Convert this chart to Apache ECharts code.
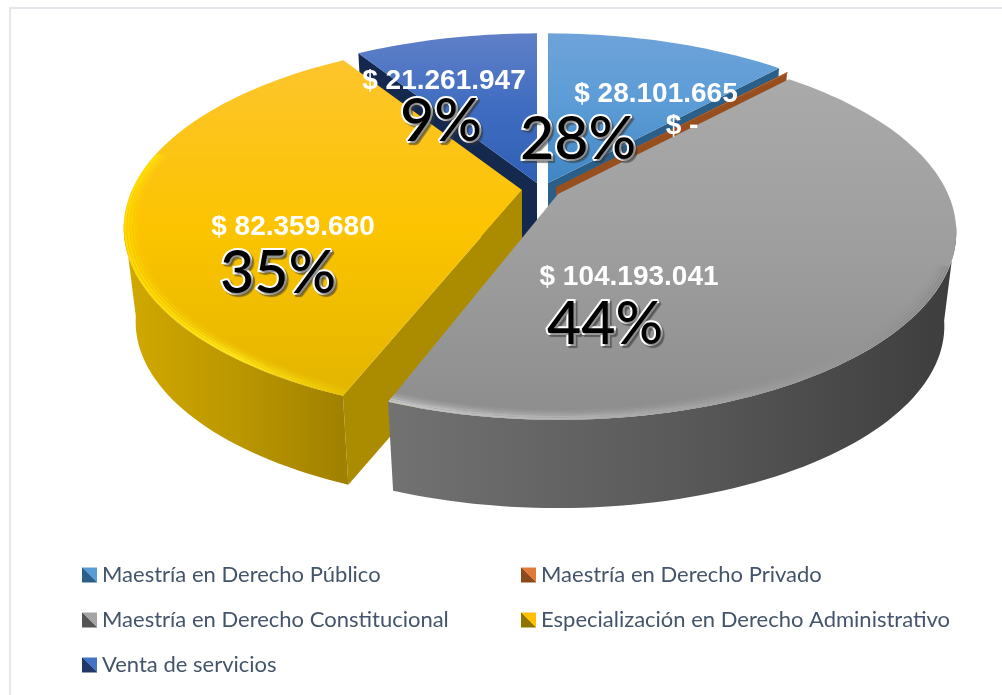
<!DOCTYPE html>
<html>
<head>
<meta charset="utf-8">
<style>html,body{margin:0;padding:0;background:#fff}#c{width:1002px;height:695px}</style>
<script src="https://cdn.jsdelivr.net/npm/echarts@6/dist/echarts.min.js"></script>
</head>
<body>
<div id="c"></div>
<script>
// ---- data ----
const categories = ['Maestría en Derecho Público','Maestría en Derecho Privado','Maestría en Derecho Constitucional','Especialización en Derecho Administrativo','Venta de servicios'];
const values = [28101665, 0, 104193041, 82359680, 21261947];
const moneyLabels = ['$ 28.101.665','$ -','$ 104.193.041','$ 82.359.680','$ 21.261.947'];
const percentLabels = ['28%','','44%','35%','9%'];

// ---- projection of the tilted disc ----
const A = 390, B = 180, K = 0.203, DEPTH = 95, FLOOR_SCALE = 0.97;
const grad = (x0,y0,x1,y1,stops) => new echarts.graphic.LinearGradient(x0,y0,x1,y1,stops.map((c,i)=>({offset:i/(stops.length-1),color:c})));
const split = (lo,hi) => new echarts.graphic.LinearGradient(0,1,1,0,[{offset:0,color:lo},{offset:.5,color:lo},{offset:.5,color:hi},{offset:1,color:hi}]);

const looks = [
  {ax:548,ay:183, top:['#6ea3d9','#5b9bd5','#3f86c4'], radial:'#2b5f88', icon:['#2b5f88','#5b9bd5']},
  {ax:556,ay:187, top:['#b5652f','#b5652f'], radial:'#984f1f', icon:['#8a4a1c','#e07a3a']},
  {ax:558,ay:194, top:['#aaaaaa','#9e9e9e','#8d8d8d'], wall:['#727272','#5a5a5a','#3d3d3d'], rim:['#c8c8c8','#a8a8a8','#8a8a8a'], rimFrom:112, endTrim:1.2, icon:['#555555','#a5a5a5']},
  {ax:522,ay:190, top:['#fdc52c','#fcc400','#e3b500'], wall:['#d2a900','#bb9700','#9f8000'], rim:['#ffdc00','#ffe81a','#e8c000'], rimTo:282, radialEnd:'#ab8c00', icon:['#8f7300','#ffc000']},
  {ax:537,ay:183, top:['#6080c8','#3f6cc0','#2f60b5'], radial:'#15294f', icon:['#1f3864','#4472c4']}
];
const total = values.reduce((s,v)=>s+v,0);
const spans = []; { let c = 0; values.forEach(v=>{ const d = v/total*360; spans.push([c,c+d]); c += d; }); }

function pt(look, deg, floor, r){
  const q = r===undefined?1:r;
  const t = deg*Math.PI/180, u = q*Math.sin(t), v = q*Math.cos(t), w = 1+K*v, s = floor?FLOOR_SCALE:1;
  return [look.ax + s*A*u/w, look.ay - s*B*v/w + (floor?DEPTH:0)];
}
function arc(look, from, to, floor, r){
  const n = Math.max(2,Math.ceil(Math.abs(to-from)/1.5)), out = [];
  for(let i=0;i<=n;i++) out.push(pt(look, from+(to-from)*i/n, floor, r));
  return out;
}
const apexTop = l => [l.ax,l.ay];
const apexFloor = l => [l.ax,l.ay+DEPTH];
const RIM_BANDS = [[0.996,1],[0.989,.85],[0.982,.55],[0.975,.3],[0.968,.12]];

function sliceRender(i){
  return function(){
    const l = looks[i];
    const from = spans[i][0], to = spans[i][1]-(l.endTrim||0);
    const kids = [];
    const poly = (points, fill) => kids.push({type:'polygon',shape:{points},style:{fill}});
    if(l.radial){
      const edge = i===4 ? from : to;
      poly([apexTop(l),pt(l,edge,false),pt(l,edge,true),apexFloor(l)], l.radial);
      if(i===4) poly([apexTop(l),apexFloor(l),[l.ax-14,l.ay+DEPTH],[l.ax-14,l.ay]], l.radial);
    }
    if(l.radialEnd) poly([apexTop(l),pt(l,from,false),pt(l,from,true),apexFloor(l)], l.radialEnd);
    if(l.wall){
      const wFrom = Math.max(from,100), wTo = Math.min(to,260);
      poly(arc(l,wFrom,wTo,false).concat(arc(l,wTo,wFrom,true)), grad(0,0,1,0,l.wall));
    }
    if(to>from){
      poly([apexTop(l)].concat(arc(l,from,to,false)), grad(0,0,0,1,l.top));
      if(l.rim){
        const rFrom = Math.max(from,l.rimFrom||95), rTo = Math.min(to,l.rimTo||285);
        RIM_BANDS.forEach(b=>{
          kids.push({type:'polyline',shape:{points:arc(l,rFrom,rTo,false,b[0])},
            style:{fill:null,opacity:b[1],stroke:grad(1,0,0,0,[l.rim[2],l.rim[1],l.rim[0]]),lineWidth:2}});
        });
      }
    } else {
      poly([apexTop(l),pt(l,from,false),pt(l,from+0.3,false)], l.top[0]);
    }
    return {type:'group',children:kids};
  };
}

// back to front
const paintOrder = [4,0,1,3,2];
const series = paintOrder.map(i=>({
  type:'custom', name:categories[i], coordinateSystem:'none', silent:true,
  data:[values[i]], renderItem:sliceRender(i), animation:false,
  itemStyle:{color:looks[i].icon[1]}
}));

const legendItem = i => ({name:categories[i], icon:'rect', itemStyle:{color:split(looks[i].icon[0],looks[i].icon[1])}});
const legendBase = {orient:'vertical', selectedMode:false, itemWidth:15, itemHeight:15, itemGap:23,
  textStyle:{fontFamily:'Lato',fontSize:22,color:'#44546a',padding:[0,0,0,0]}};

// label anchor points
const moneyAt = [[656,94],[682,126],[629,277],[293,227],[444,81]];
const pctAt = [[578,140],null,[605,325],[278,274],[441,122]];
const texts = [];
moneyLabels.forEach((t,i)=>texts.push({type:'text',z:50,silent:true,x:moneyAt[i][0],y:moneyAt[i][1],
  style:{text:t,fill:'#ffffff',font:'bold 28px "Liberation Sans"',align:'center',verticalAlign:'middle'}}));
percentLabels.forEach((t,i)=>{ if(t) texts.push({type:'text',z:51,silent:true,x:pctAt[i][0],y:pctAt[i][1],
  style:{text:t,fill:'#000000',stroke:'#ffffff',lineWidth:4,font:'500 59px Lato',align:'center',verticalAlign:'middle',
    textShadowColor:'rgba(50,50,50,.55)',textShadowBlur:1,textShadowOffsetX:2,textShadowOffsetY:2}}); });

const chart = echarts.init(document.getElementById('c'),null,{renderer:'canvas'});
chart.setOption({
  animation:false,
  backgroundColor:'#ffffff',
  legend:[
    Object.assign({},legendBase,{left:77,top:559,data:[0,2,4].map(legendItem)}),
    Object.assign({},legendBase,{left:516,top:559,data:[1,3].map(legendItem)})
  ],
  graphic:[{type:'polyline',silent:true,z:0,shape:{points:[[10,695],[10,8],[1002,8]]},style:{fill:null,stroke:'#e3e7ed',lineWidth:2}}].concat(texts),
  series
});
</script>
</body>
</html>
